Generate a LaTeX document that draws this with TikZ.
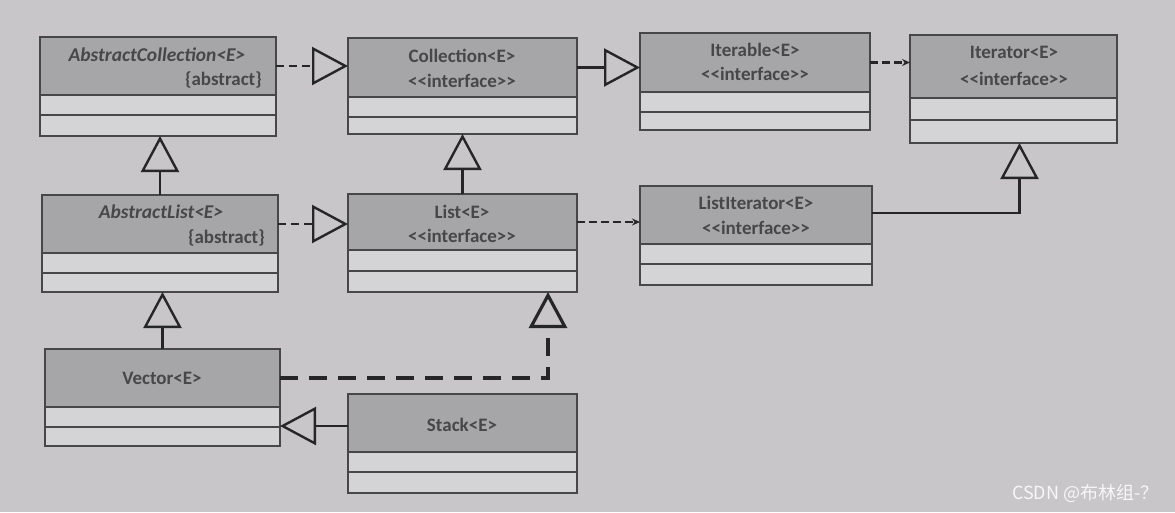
\documentclass[tikz,border=0pt]{standalone}
\usepackage{fontspec}
\setmainfont{Carlito}
\newfontfamily\cjk{Noto Sans CJK SC}
\usetikzlibrary{arrows.meta,calc}
\definecolor{bg}{RGB}{200,198,200}
\definecolor{hdr}{RGB}{166,165,168}
\definecolor{cmp}{RGB}{212,211,214}
\definecolor{ink}{RGB}{38,38,40}
\newcommand\umlbox[7]{%
  \node[hdrbox, minimum width=#4pt, minimum height=#5pt] (#1h) at (#2,#3) {};
  \node[cmpbox, minimum width=#4pt, minimum height=#6pt] (#1a) at (#1h.south west) {};
  \node[cmpbox, minimum width=#4pt, minimum height=#7pt] (#1b) at (#1a.south west) {};
}
\begin{document}
\begin{tikzpicture}[x=1pt,y=-1pt,
  hdrbox/.style={draw=ink!85, line width=1.3pt, fill=hdr, inner sep=0pt, outer sep=0pt, anchor=north west},
  cmpbox/.style={draw=ink!85, line width=1.3pt, fill=cmp, inner sep=0pt, outer sep=0pt, anchor=north west},
  lbl/.style={font=\fontsize{19}{22}\selectfont\bfseries, text=ink!85, inner sep=0pt},
  ilbl/.style={font=\fontsize{19.5}{22}\selectfont\bfseries\itshape, text=ink!85, inner sep=0pt},
  gen/.style={draw=ink, line width=2.4pt, -{Triangle[length=36pt,width=38pt,fill=bg]}},
  real/.style={gen, dash pattern=on 8pt off 5pt},
  dep/.style={draw=ink, line width=2.4pt, dash pattern=on 8pt off 4pt, -{Stealth[length=8pt,width=7pt]}},
]
\fill[bg] (0,0) rectangle (1175,512);
\useasboundingbox (0,0) rectangle (1175,512);

\umlbox{ac}{40}{37}{236}{58}{20}{21}
\umlbox{co}{348}{38}{229}{59}{20}{17}
\umlbox{ib}{640}{33}{230}{59}{20}{18}
\umlbox{it}{910}{35}{207}{63}{22}{23}
\umlbox{al}{42}{195}{236}{58}{20}{19}
\umlbox{li}{348}{194}{229}{56}{21}{21}
\umlbox{lt}{640}{186}{232}{58}{20}{21}
\umlbox{ve}{45}{349}{235}{58}{20}{19}
\umlbox{st}{348}{394}{229}{58}{20}{21}

\node[ilbl] (acn) at (157,55) {AbstractCollection<E>};
\node[lbl, anchor=east] (aca) at (262,80) {\{abstract\}};
\node[lbl] (con) at (462,56) {Collection<E>};
\node[lbl] (coi) at (462,81) {<{}<interface>{}>};
\node[lbl] (ibn) at (755,50) {Iterable<E>};
\node[lbl] (ibi) at (755,74) {<{}<interface>{}>};
\node[lbl] (itn) at (1014,52) {Iterator<E>};
\node[lbl] (iti) at (1014,79) {<{}<interface>{}>};
\node[ilbl] (aln) at (161,212) {AbstractList<E>};
\node[lbl, anchor=east] (ala) at (265,238) {\{abstract\}};
\node[lbl] (lin) at (462,212) {List<E>};
\node[lbl] (lii) at (462,236) {<{}<interface>{}>};
\node[lbl] (ltn) at (756,203) {ListIterator<E>};
\node[lbl] (lti) at (756,228) {<{}<interface>{}>};
\node[lbl] (ven) at (162,378) {Vector<E>};
\node[lbl] (stn) at (462,425) {Stack<E>};

% connectors
\draw[real] (ach.east) -- (coh.west |- ach.east);
\draw[gen] (coh.east) -- (ibh.west |- coh.east);
\draw[dep] (ibh.east) -- (ith.west |- ibh.east);
\draw[gen] (alh.north) -- (acb.south -| alh.north);
\draw[gen] (lih.north) -- (cob.south -| lih.north);
\draw[real] (alh.east) -- (lih.west |- alh.east);
\draw[dep] (lih.east) -- (lth.west |- lih.east);
\coordinate (itin) at ($(itb.south)+(6,0)$);
\draw[gen] ($(lth.east)+(0,-2)$) -| (itin);
\draw[gen] (veh.north) -- (alb.south -| veh.north);
\coordinate (liin) at ($(lib.south east)+(-29,0)$);
\draw[gen, line width=3.2pt, dash pattern=on 18pt off 11pt] (veh.east) -| (liin);
\draw[gen] ($(sth.west)+(0,3)$) -- ($(veh.east |- sth.west)+(0,3)$);

\node[font=\cjk\fontsize{18}{20}\selectfont, text=white!94!gray, anchor=east] (wm) at (1162,493) {CSDN @布林组-？};
\end{tikzpicture}
\end{document}
